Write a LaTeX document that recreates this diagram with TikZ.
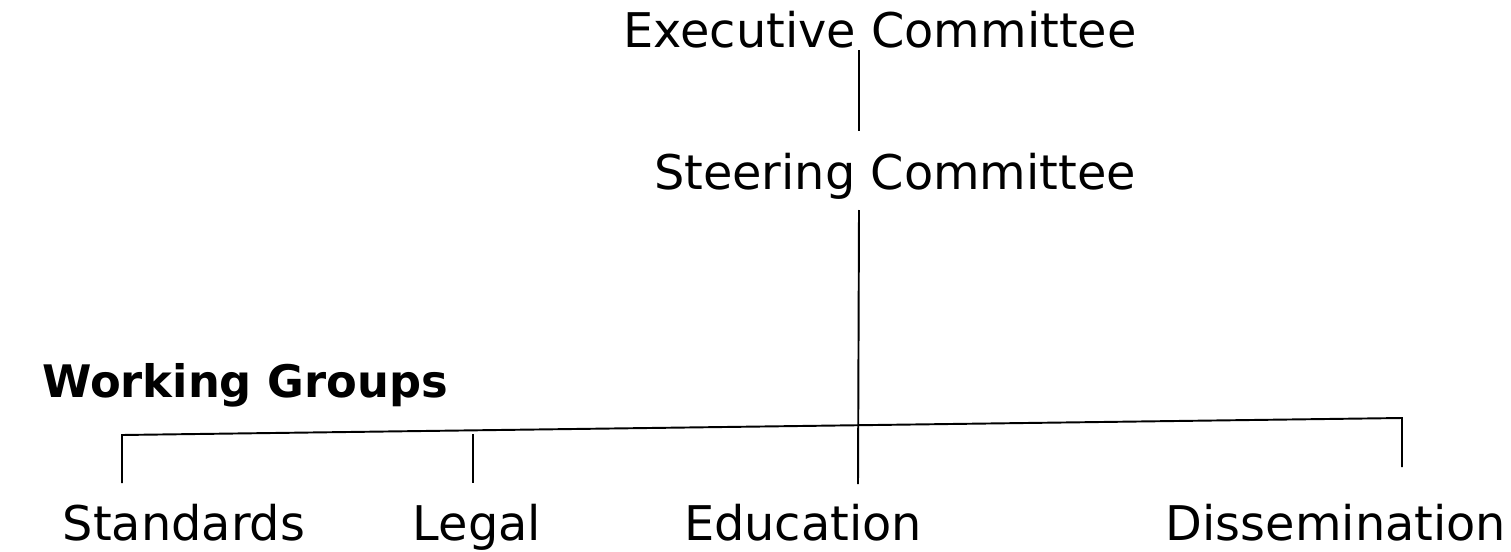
\documentclass[tikz,border=0pt]{standalone}
\usepackage{fontspec}
\setmainfont{DejaVu Sans}
\usetikzlibrary{positioning}

\tikzset{
  unit/.style={inner sep=0pt,anchor=base,font=\fontsize{27.2}{31}\selectfont},
  head/.style={inner sep=0pt,anchor=base,font=\bfseries\fontsize{25.5}{30}\selectfont},
  tie/.style={line width=1.1pt}
}

\begin{document}
\begin{tikzpicture}[x=0.02cm,y=-0.02cm]
\useasboundingbox (0,0) rectangle (1511,551);

% committees
\node[unit] (exec) at (880,48) {Executive Committee};
\node[unit] (steer) at (895,189) {Steering Committee};
\coordinate (exec-foot) at (859,50);
\coordinate (steer-top) at (859,131);
\coordinate (steer-foot) at (859,210);
\draw[tie] (exec-foot) -- (steer-top);

% working groups
\node[head] (wg) at (245,397) {Working Groups};
\node[unit] (std) at (184,540) {Standards};
\node[unit] (legal) at (477,540) {Legal};
\node[unit] (edu) at (803,540) {Education};
\node[unit] (diss) at (1336,540) {Dissemination};

\coordinate (bar-l) at (122,435);
\coordinate (bar-r) at (1402,418);
\coordinate (legal-top) at (473,434);
\coordinate (std-foot) at (122,483);
\coordinate (legal-foot) at (473,483);
\coordinate (edu-foot) at (858,484);
\coordinate (diss-foot) at (1402,467);

\draw[tie] (std-foot) -- (bar-l) -- (bar-r) -- (diss-foot);
\draw[tie] (legal-top) -- (legal-foot);
\draw[tie] (steer-foot) -- (edu-foot);
\end{tikzpicture}
\end{document}
